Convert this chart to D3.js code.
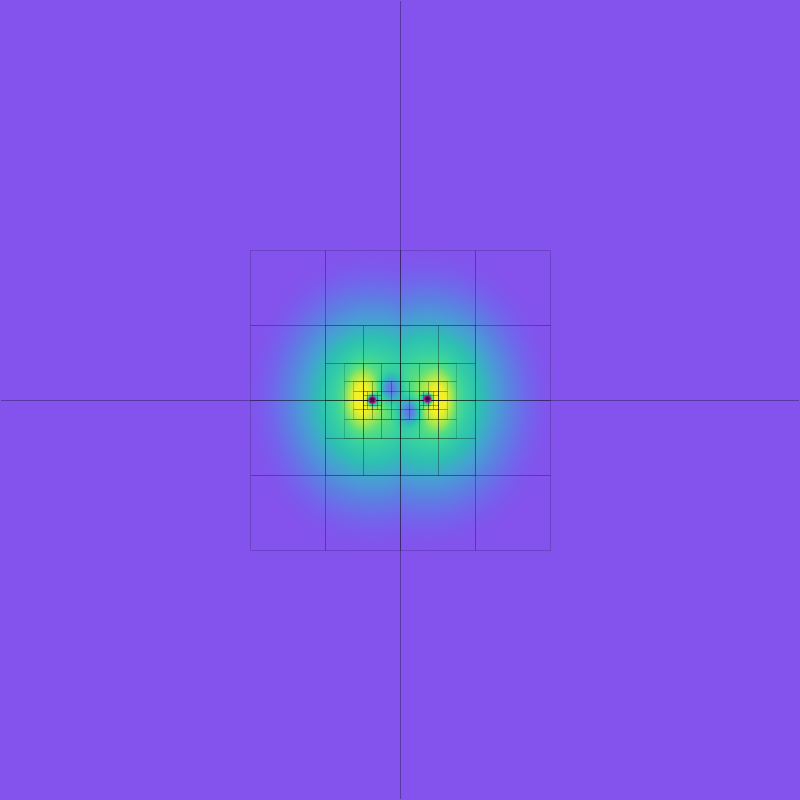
<!DOCTYPE html>
<html>
<head>
<meta charset="utf-8">
<script src="https://cdn.jsdelivr.net/npm/d3@7"></script>
<style>
  html, body { margin: 0; padding: 0; background: #8452ed; }
  #wrap { position: relative; width: 800px; height: 800px; }
  canvas, svg { position: absolute; left: 0; top: 0; }
</style>
</head>
<body>
<div id="wrap"></div>
<script>
// ---------- data (data units, domain [-8, 8] on both axes) ----------
// mesh patches: [x0, x1, y0, y1, cellSize]
const patchLevel = [0, 1, 2, 3, 4, 5, 5];
const patchX0 = [-8, -3, -1.5, -1.125, -0.9375, -0.75, 0.375];
const patchX1 = [ 8,  3,  1.5,  1.125,  0.9375, -0.375, 0.75];
const patchY0 = [-8, -3, -1.5, -0.75, -0.375, -0.1875, -0.1875];
const patchY1 = [ 8,  3,  1.5,  0.75,  0.375,  0.1875,  0.1875];
const patchCell = [8, 1.5, 0.75, 0.375, 0.1875, 0.09375, 0.09375];

// two bodies
const bodyX = [-0.555, 0.55];
const bodyY = [0.0, 0.02];

// field shape parameters
const baseReach = 3.04;     // field vanishes at this elliptical distance
const baseSlope = 3.6;
const baseStretchX = 1.18;
const peakX = [-0.78, 0.78], peakY = [0.04, -0.02], peakSX = [0.19, 0.19], peakSY = [0.36, 0.36], peakA = [0.34, 0.34];
const dipX = [-0.2, 0.2], dipY = [0.22, -0.22], dipSX = [0.15, 0.15], dipSY = [0.19, 0.19], dipA = [0.45, 0.45];
const coreS = 0.075, coreA = 0.95;

// colour map stops
const colorStops = [0, 0.1, 0.2, 0.3, 0.4, 0.5, 0.6, 0.7, 0.8, 0.9, 1];
const colorRange = ["#8452ed", "#7d58ed", "#6e69eb", "#5a82e1", "#46a0d2", "#2dc0b2",
                    "#37d2a0", "#55de80", "#96e65a", "#c8eb3c", "#f2f026"];

// ---------- scales ----------
const W = 800, H = 800;
const x = d3.scaleLinear().domain([-8, 8]).range([0, W]);
const y = d3.scaleLinear().domain([-8, 8]).range([H, 0]);
const color = d3.scaleLinear().domain(colorStops).range(colorRange)
  .interpolate(d3.interpolateRgb).clamp(true);

function field(px, py) {
  let rho = Infinity;
  for (let i = 0; i < bodyX.length; i++) {
    const dx = (px - bodyX[i]) * baseStretchX, dy = py - bodyY[i];
    rho = Math.min(rho, Math.sqrt(dx * dx + dy * dy));
  }
  let v = Math.max(0, (baseReach - rho) / baseSlope);
  for (let i = 0; i < peakX.length; i++) {
    const dx = (px - peakX[i]) / peakSX[i], dy = (py - peakY[i]) / peakSY[i];
    v += peakA[i] * Math.exp(-0.5 * (dx * dx + dy * dy));
  }
  for (let i = 0; i < dipX.length; i++) {
    const dx = (px - dipX[i]) / dipSX[i], dy = (py - dipY[i]) / dipSY[i];
    v -= dipA[i] * Math.exp(-0.5 * (dx * dx + dy * dy));
  }
  for (let i = 0; i < bodyX.length; i++) {
    const dx = (px - bodyX[i]) / coreS, dy = (py - bodyY[i]) / coreS;
    v -= coreA * Math.exp(-0.5 * (dx * dx + dy * dy));
  }
  return v;
}

// ---------- raster ----------
const wrap = d3.select("#wrap");
const canvas = wrap.append("canvas").attr("width", W).attr("height", H).node();
const ctx = canvas.getContext("2d");
const img = ctx.createImageData(W, H);
const lut = d3.range(1001).map(i => d3.rgb(color(i / 1000)));
for (let j = 0; j < H; j++) {
  const py = y.invert(j + 0.5);
  for (let i = 0; i < W; i++) {
    const px = x.invert(i + 0.5);
    let v = field(px, py);
    v = Math.max(0, Math.min(1, v));
    const c = lut[Math.round(v * 1000)];
    const k = (j * W + i) * 4;
    img.data[k] = c.r; img.data[k + 1] = c.g; img.data[k + 2] = c.b; img.data[k + 3] = 255;
  }
}
ctx.putImageData(img, 0, 0);

// ---------- mesh ----------
const svg = wrap.append("svg").attr("width", W).attr("height", H);
const defs = svg.append("defs");
defs.append("clipPath").attr("id", "inner")
  .append("rect").attr("x", 1).attr("y", 1).attr("width", W - 2).attr("height", H - 2);

const cells = [];
patchLevel.forEach((lv, p) => {
  const h = patchCell[p];
  const nx = Math.round((patchX1[p] - patchX0[p]) / h);
  const ny = Math.round((patchY1[p] - patchY0[p]) / h);
  for (let a = 0; a < nx; a++) for (let b = 0; b < ny; b++) {
    cells.push({ level: lv, x0: patchX0[p] + a * h, x1: patchX0[p] + (a + 1) * h,
                 y0: patchY0[p] + b * h, y1: patchY0[p] + (b + 1) * h });
  }
});
svg.append("g").attr("clip-path", "url(#inner)")
  .selectAll("rect").data(cells).join("rect")
  .attr("x", d => Math.round(x(d.x0)) + 0.5)
  .attr("y", d => Math.round(y(d.y1)) + 0.5)
  .attr("width", d => Math.round(x(d.x1)) - Math.round(x(d.x0)))
  .attr("height", d => Math.round(y(d.y0)) - Math.round(y(d.y1)))
  .attr("fill", "none")
  .attr("stroke", "#000")
  .attr("stroke-opacity", 0.17)
  .attr("stroke-width", 1);

// ---------- bodies ----------
const grad = defs.append("radialGradient").attr("id", "bodyGrad");
grad.append("stop").attr("offset", "0%").attr("stop-color", "#2e0838");
grad.append("stop").attr("offset", "50%").attr("stop-color", "#5c0e4a");
grad.append("stop").attr("offset", "80%").attr("stop-color", "#a8206a");
grad.append("stop").attr("offset", "100%").attr("stop-color", "#9a3aa0").attr("stop-opacity", 0.6);
svg.append("g").selectAll("circle").data(bodyX.map((bx, i) => ({ x: bx, y: bodyY[i] })))
  .join("circle")
  .attr("cx", d => x(d.x))
  .attr("cy", d => y(d.y))
  .attr("r", 4)
  .attr("fill", "url(#bodyGrad)");
</script>
</body>
</html>
